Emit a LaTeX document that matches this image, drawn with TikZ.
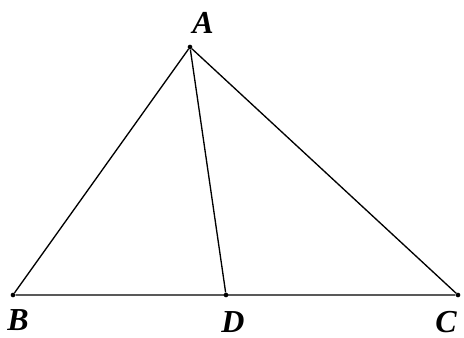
\documentclass[tikz,border=0pt]{standalone}
\usepackage{fontspec}
\setmainfont{Liberation Serif}
\begin{document}
\begin{tikzpicture}[
  x=0.75pt, y=-0.75pt,
  every node/.append style={font=\fontsize{24}{28}\selectfont\bfseries\itshape},
  side/.style={draw, line width=1pt},
  vertex/.style={circle, fill, inner sep=0pt, minimum size=3.5pt},
  letter/.style={inner sep=1pt},
]
\useasboundingbox (0,0) rectangle (464,338);

% ------------------------------------------------------------ the vertices
\node[vertex] (A) at (190,47) {};
\node[vertex] (B) at (13,295) {};
\node[vertex] (D) at (226,295) {};
\node[vertex] (C) at (458,295) {};

% --------------------------------------------------------------- the sides
\draw[side] (A) -- (B) -- (C) -- (A);
\draw[side] (A) -- (D);

% ------------------------------------------------------------- the letters
\node[letter] (labA) at (203,23) {A};
\node[letter] (labB) at (18,320) {B};
\node[letter] (labD) at (233,322) {D};
\node[letter] (labC) at (446,322) {C};

\end{tikzpicture}
\end{document}
